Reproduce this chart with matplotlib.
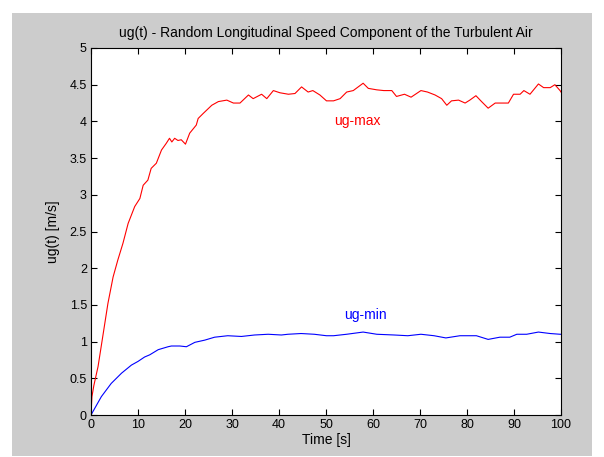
import matplotlib
matplotlib.use("Agg")
import matplotlib.pyplot as plt
from matplotlib.patches import Rectangle

# values
t_max = [0, 0.2, 0.6, 1.5, 2.6, 3.6, 4.7, 5.7, 6.8, 7.9, 9.3, 10.4, 11.1, 12.1, 12.8,
         13.9, 15.0, 16.0, 16.7, 17.2, 17.8, 18.5, 19.2, 20.1, 21.0, 22.4, 22.8,
         23.9, 25.7, 27.1, 28.9, 30.3, 31.7, 33.5, 34.5, 36.3, 37.4, 38.8, 40.2,
         42.0, 43.4, 44.8, 46.2, 47.2, 48.7, 50.1, 51.6, 53.0, 54.4, 55.8, 57.9,
         59.0, 60.8, 62.3, 64.0, 65.0, 66.7, 68.1, 70.2, 71.6, 73.2, 74.6, 75.7,
         76.7, 78.2, 79.6, 80.6, 81.9, 83.1, 84.5, 86.0, 87.4, 88.8, 89.9, 91.3,
         92.1, 93.4, 95.2, 96.3, 97.7, 98.7, 99.8, 100]
ug_max = [0.0, 0.25, 0.40, 0.66, 1.11, 1.52, 1.88, 2.11, 2.34, 2.61, 2.84, 2.95, 3.13,
          3.20, 3.36, 3.43, 3.61, 3.70, 3.77, 3.72, 3.77, 3.74, 3.75, 3.69, 3.84,
          3.95, 4.04, 4.11, 4.22, 4.27, 4.29, 4.25, 4.25, 4.36, 4.31, 4.37, 4.31,
          4.42, 4.39, 4.37, 4.38, 4.47, 4.40, 4.42, 4.36, 4.28, 4.28, 4.31, 4.40,
          4.42, 4.52, 4.45, 4.43, 4.42, 4.42, 4.34, 4.37, 4.33, 4.42, 4.40, 4.36,
          4.31, 4.22, 4.28, 4.29, 4.25, 4.29, 4.35, 4.27, 4.18, 4.25, 4.25, 4.25,
          4.37, 4.37, 4.42, 4.37, 4.51, 4.46, 4.46, 4.50, 4.42, 4.40]

t_min = [0, 2.2, 4.3, 6.5, 8.6, 10.0, 11.4, 12.5, 14.3, 16.4, 17.1, 18.9, 20.3,
         22.1, 24.2, 26.3, 29.1, 32.0, 34.8, 37.7, 40.5, 41.9, 44.7, 47.5, 50.1,
         51.6, 54.4, 57.9, 60.8, 64.5, 67.4, 70.2, 73.0, 75.5, 78.5, 82.0, 84.5,
         87.0, 89.1, 90.6, 92.7, 95.2, 97.7, 99.8, 100]
ug_min = [0.0, 0.25, 0.43, 0.57, 0.68, 0.73, 0.79, 0.82, 0.89, 0.93, 0.94, 0.94,
          0.93, 0.99, 1.02, 1.06, 1.08, 1.07, 1.09, 1.10, 1.09, 1.10, 1.11, 1.10,
          1.08, 1.08, 1.10, 1.13, 1.10, 1.09, 1.08, 1.10, 1.08, 1.05, 1.08, 1.08,
          1.03, 1.06, 1.06, 1.10, 1.10, 1.13, 1.11, 1.10, 1.10]

x_ticks = list(range(0, 101, 10))
y_ticks = [0, 0.5, 1, 1.5, 2, 2.5, 3, 3.5, 4, 4.5, 5]
y_tick_labels = ["0", "0.5", "1", "1.5", "2", "2.5", "3", "3.5", "4", "4.5", "5"]

plt.rcParams['font.family'] = ['Liberation Sans', 'DejaVu Sans']

fig = plt.figure(figsize=(6.04, 4.57), dpi=100, facecolor="white")
# grey MATLAB figure background
fig.patches.append(Rectangle((12 / 604, 1 - 456 / 457), 580 / 604, 443 / 457,
                             transform=fig.transFigure, facecolor="#cccccc",
                             edgecolor="none", zorder=-10))

ax = fig.add_axes([91 / 604, 1 - 415 / 457, 470 / 604, 367 / 457])
ax.plot(t_max, ug_max, color="red", lw=0.8)
ax.plot(t_min, ug_min, color="blue", lw=0.8)

ax.text(56.6, 4.0, "ug-max", color="red", ha="center", va="center", fontsize=10)
ax.text(58.4, 1.36, "ug-min", color="blue", ha="center", va="center", fontsize=10)

ax.set_xlim(0, 100)
ax.set_ylim(0, 5)
ax.set_xticks(x_ticks)
ax.set_yticks(y_ticks)
ax.set_yticklabels(y_tick_labels)
ax.tick_params(direction="in", length=4, width=0.8, top=True, right=True,
               labelsize=9, pad=3, colors="black")
for s in ax.spines.values():
    s.set_linewidth(0.8)

ax.set_title("ug(t) - Random Longitudinal Speed Component of the Turbulent Air",
             fontsize=10, pad=8)
ax.set_xlabel("Time [s]", fontsize=10, labelpad=1)
ax.set_ylabel("ug(t) [m/s]", fontsize=10, labelpad=7)

fig.savefig("out.png", dpi=100, facecolor="white")
